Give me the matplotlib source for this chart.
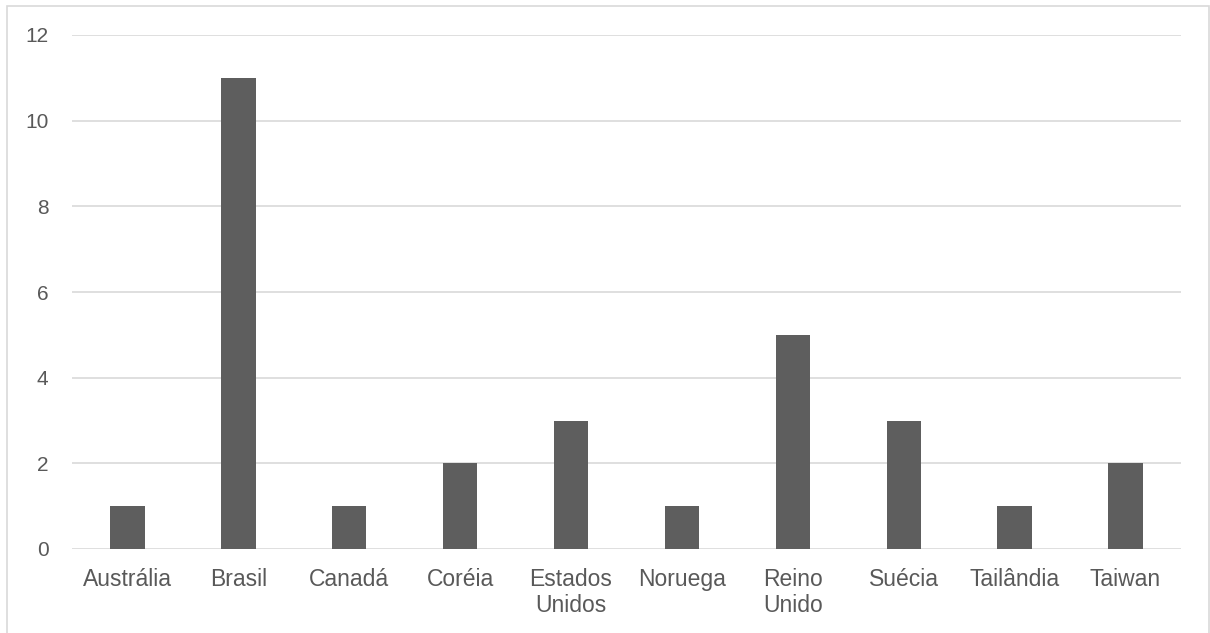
import matplotlib
matplotlib.use("Agg")
import matplotlib.pyplot as plt
from matplotlib.patches import Rectangle

categories = ["Austrália", "Brasil", "Canadá", "Coréia", "Estados\nUnidos",
              "Noruega", "Reino\nUnido", "Suécia", "Tailândia", "Taiwan"]
values = [1, 11, 1, 2, 3, 1, 5, 3, 1, 2]
yticks = [0, 2, 4, 6, 8, 10, 12]

plt.rcParams['font.family'] = ['Liberation Sans', 'DejaVu Sans']

fig = plt.figure(figsize=(12.10, 6.33), dpi=100)
ax = fig.add_axes([72/1210, 1-549/633, (1181-72)/1210, (549-35)/633])

x = list(range(len(categories)))
ax.bar(x, values, width=0.31, color="#5e5e5e", zorder=3)
ax.set_xlim(-0.5, len(categories) - 0.5)
ax.set_ylim(0, 12)
ax.set_yticks(yticks)
ax.set_yticklabels([str(t) for t in yticks], fontsize=15)
ax.set_xticks(x)
ax.set_xticklabels(categories, linespacing=1.12, fontsize=16.5)
ax.yaxis.grid(True, color="#d9d9d9", linewidth=1.2, zorder=0)
ax.tick_params(axis='both', length=0, colors="#595959")
ax.tick_params(axis='y', pad=17)
ax.tick_params(axis='x', pad=14)
for s in ax.spines.values():
    s.set_visible(False)

fig.patches.append(Rectangle((7/1210, -0.02), (1209-7)/1210, 1 - 6/633 + 0.02,
                             transform=fig.transFigure, fill=False,
                             edgecolor="#d9d9d9", linewidth=1.2))

fig.savefig("out.png", dpi=100)
